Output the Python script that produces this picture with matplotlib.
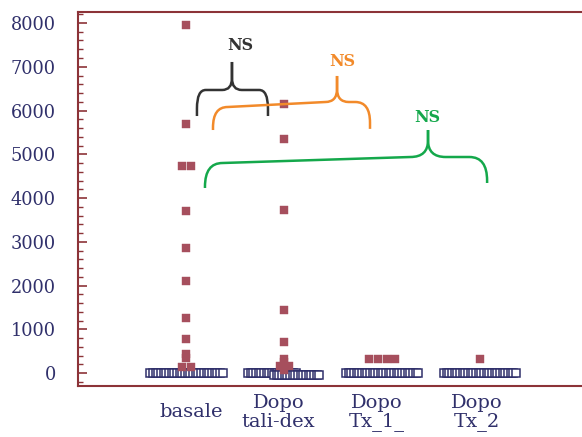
import numpy as np
import matplotlib.pyplot as plt
import matplotlib.transforms as mtransforms
from matplotlib.path import Path
from matplotlib.patches import PathPatch
from matplotlib.ticker import MultipleLocator

plt.rcParams['font.family'] = ['DejaVu Serif']

gruppi = ['basale', 'Dopo\ntali-dex', 'Dopo\nTx_1_', 'Dopo\nTx_2']

# valori positivi per gruppo (quadrati pieni)
basale = [7950, 5690, 4740, 4740, 3710, 2860, 2100, 1260, 780, 440, 350, 140, 140]
tali_dex = [6150, 5350, 3720, 1440, 710, 320, 250, 160, 160, 70]
tx_1 = [330, 330, 330, 330]
tx_2 = [330]
valori = [basale, tali_dex, tx_1, tx_2]

# quanti valori a zero per gruppo (quadrati vuoti), divisi in file
zeri = [[28], [19, 18], [28], [28]]

NAVY = '#30306b'
ROSSO = '#a64f5d'
BORDO = '#8c3338'

fig = plt.figure(figsize=(5.82, 4.37), dpi=100)
ax = fig.add_axes([0.134, 0.1167, 0.866, 0.8558])

x_pos = np.arange(1, len(gruppi) + 1)
passo = 0.0273   # distanza tra i quadrati vuoti
largh = 0.09     # distanza tra quadrati pieni con lo stesso valore

# quadrati vuoti a zero, sovrapposti in fila
for xg, file_ in zip(x_pos, zeri):
    for k, n in enumerate(file_):
        centro = xg + (k - (len(file_) - 1) / 2) * 0.25
        xs = centro + (np.arange(n) - (n - 1) / 2) * passo
        ax.plot(xs, np.full(n, -50.0 * k), 's', ms=5.6, mfc='white', mec=NAVY,
                mew=1.1, ls='none', zorder=2)

# quadrati pieni, affiancati quando il valore si ripete
for xg, vals in zip(x_pos, valori):
    vals = np.array(vals)
    for v in np.unique(vals):
        m = np.sum(vals == v)
        xs = xg + (np.arange(m) - (m - 1) / 2) * largh
        ax.plot(xs, np.full(m, v), 's', ms=6.1, mfc=ROSSO, mec=ROSSO, mew=0.3,
                ls='none', zorder=3)


def graffa(x0, x1, xp, ye0, ye1, yb0, yb1, yt, rx, ry, nrx, nry, colore):
    sx = [(x0, ye0), (x0, yb0 - ry), (x0, yb0), (x0 + rx, yb0),
          (xp - nrx, yb1), (xp, yb1), (xp, yb1 + nry), (xp, yt)]
    dx = [(xp, yt), (xp, yb1 + nry), (xp, yb1), (xp + nrx, yb1),
          (x1 - rx, yb1), (x1, yb1), (x1, yb1 - ry), (x1, ye1)]
    codici = [Path.MOVETO, Path.LINETO, Path.CURVE3, Path.CURVE3,
              Path.LINETO, Path.CURVE3, Path.CURVE3, Path.LINETO]
    for v in (sx, dx):
        ax.add_patch(PathPatch(Path(v, codici), fc='none', ec=colore, lw=1.8,
                               capstyle='butt', zorder=4))


graffa(1.107, 1.833, 1.465, 5874, 5874, 6469, 6469, 7109, 0.09, 420, 0.1, 270, '#333333')
graffa(1.271, 2.876, 2.539, 5554, 5580, 6080, 6194, 6789, 0.15, 470, 0.12, 300, '#f28a2a')
graffa(1.189, 4.073, 3.469, 4229, 4343, 4800, 4937, 5554, 0.18, 540, 0.18, 380, '#14a84b')

ax.text(1.547, 7497, 'NS', ha='center', va='center', fontsize=11.5,
        fontweight='bold', color='#333333')
ax.text(2.590, 7109, 'NS', ha='center', va='center', fontsize=11.5,
        fontweight='bold', color='#f28a2a')
ax.text(3.459, 5851, 'NS', ha='center', va='center', fontsize=11.5,
        fontweight='bold', color='#14a84b')

ax.set_xlim(-0.109, 5.043)
ax.set_ylim(-297, 8251)

ax.yaxis.set_major_locator(MultipleLocator(1000))
ax.yaxis.set_minor_locator(MultipleLocator(200))
ax.tick_params(axis='y', which='major', direction='in', length=6.5, width=1.2,
               color=BORDO, labelcolor=NAVY, labelsize=12.8, pad=16)
ax.tick_params(axis='y', which='minor', direction='in', length=3.6, width=1.0,
               color=BORDO)

ax.set_xticks(x_pos)
ax.set_xticklabels(gruppi, linespacing=1.05)
ax.tick_params(axis='x', length=0, labelcolor=NAVY, labelsize=14, pad=19)
# piccolo spostamento orizzontale delle etichette, in pixel
spost = [4.5, -6, -5, -3]
for lab, d in zip(ax.get_xticklabels(), spost):
    lab.set_va('center')
    lab.set_transform(lab.get_transform() +
                      mtransforms.ScaledTranslation(d / 100, 0, fig.dpi_scale_trans))

for lato in ('left', 'top', 'bottom'):
    ax.spines[lato].set_color(BORDO)
    ax.spines[lato].set_linewidth(1.5)
ax.spines['right'].set_visible(False)

fig.savefig('out.png', dpi=100)
